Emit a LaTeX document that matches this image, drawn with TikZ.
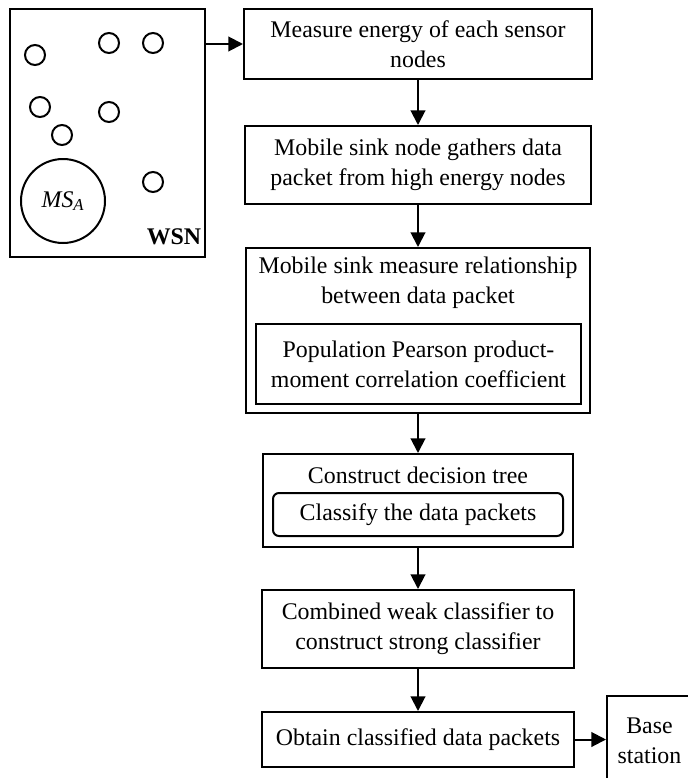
\documentclass[tikz,border=0pt]{standalone}
\usepackage{fontspec}
\setmainfont{Liberation Serif}
\usetikzlibrary{arrows.meta}

\begin{document}
\begin{tikzpicture}[x=0.75pt,y=-0.75pt,
    every node/.style={font=\fontsize{17.9}{22.5}\selectfont},
    proc/.style={draw=black, line width=1.5pt, align=center, inner sep=0pt},
    plain/.style={align=center, inner sep=0pt},
    sensor/.style={shape=circle, draw=black, line width=1.5pt, minimum size=15pt, inner sep=0pt},
    flow/.style={-{Triangle[length=11pt,width=11pt]}, line width=1.5pt}]
    \useasboundingbox (0,0) rectangle (688,778);

    % sensor field
    \node[proc, minimum width=146.25pt, minimum height=186pt] (wsn) at (107.5,133) {};
    \node[plain, font=\fontsize{17.9}{22.5}\selectfont\bfseries] (wsnlabel) at (174,237) {WSN};
    \node[sensor, minimum size=63pt] (ms) at (63,201) {\textit{MS\textsubscript{A}}};
    \foreach \name/\x/\y in {s1/35/55, s2/109/43, s3/153/43, s4/40/107, s5/109/112, s6/62/135, s7/153/182}
        \node[sensor] (\name) at (\x,\y) {};

    % flow
    \node[proc, minimum width=261pt, minimum height=52.5pt] (energy) at (418,44) {Measure energy of each sensor\\nodes};
    \node[proc, minimum width=259.5pt, minimum height=58.5pt] (gather) at (418,165) {Mobile sink node gathers data\\packet from high energy nodes};
    \node[proc, minimum width=258pt, minimum height=123.75pt] (relation) at (418,330.5) {};
    \node[plain] (relationtext) at (418,283) {Mobile sink measure relationship\\between data packet};
    \node[proc, minimum width=243.75pt, minimum height=60pt] (pearson) at (418.5,364) {Population Pearson product-\\moment correlation coefficient};
    \node[proc, minimum width=232.5pt, minimum height=69.75pt] (tree) at (418,500.5) {};
    \node[plain] (treetext) at (418,475) {Construct decision tree};
    \node[proc, rounded corners=4.5pt, minimum width=217.5pt, minimum height=32.25pt] (classify) at (418,514.5) {Classify the data packets};
    \node[proc, minimum width=234pt, minimum height=58.5pt] (combine) at (418,629) {Combined weak classifier to\\construct strong classifier};
    \node[proc, minimum width=234pt, minimum height=41.25pt] (obtain) at (418,739.5) {Obtain classified data packets};
    \node[proc, minimum width=63.75pt, minimum height=66.75pt] (base) at (649.5,740.5) {Base\\station};

    \draw[flow] (energy.west -| wsn.east) -- (energy.west);
    \draw[flow] (energy.south) -- (gather.north);
    \draw[flow] (gather.south) -- (relation.north);
    \draw[flow] (relation.south) -- (tree.north);
    \draw[flow] (tree.south) -- (combine.north);
    \draw[flow] (combine.south) -- (obtain.north);
    \draw[flow] (obtain.east) -- (base.west |- obtain.east);
\end{tikzpicture}
\end{document}
